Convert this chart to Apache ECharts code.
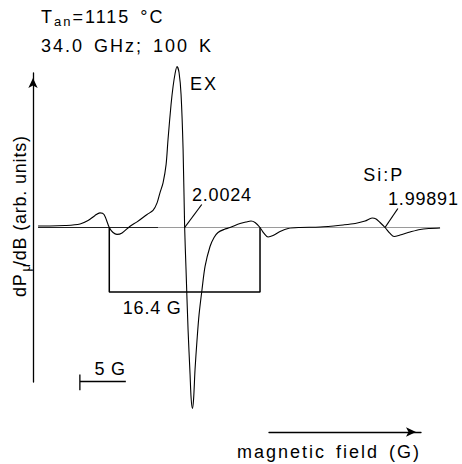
<!DOCTYPE html>
<html>
<head>
<meta charset="utf-8">
<script src="https://cdn.jsdelivr.net/npm/echarts@6/dist/echarts.min.js"></script>
<style>
  html, body { margin: 0; padding: 0; background: #fff; }
  #chart { width: 462px; height: 464px; }
  /* Helvetica-style tracking: light on numbers, wider on headings */
  #chart text { letter-spacing: 0.8px; }
  #chart text[style*="Arial"] { letter-spacing: 2px; word-spacing: 3px; }
</style>
</head>
<body>
<div id="chart"></div>
<script>
// Field offset (G) from the g = 2.0024 resonance
const fieldOffset = [-15.95, -14.65, -13.02, -11.38, -10.51, -9.75, -9.21, -8.77, -8.2, -7.79,
  -7.36, -6.81, -5.94, -5.18, -4.09, -3.44, -3.0, -2.68, -2.35, -2.02,
  -1.81, -1.48, -1.26, -1.04, -0.83, -0.61, -0.39, -0.17, 0, 0.15,
  0.37, 0.59, 0.70, 0.84, 0.97, 1.13, 1.35, 1.57, 1.89, 2.22,
  2.76, 3.20, 3.63, 4.29, 4.94, 6.03, 6.68, 7.22, 7.66, 8.2,
  8.64, 9.07, 9.62, 10.38, 11.26, 12.56, 14.74, 17.24, 18.55, 19.63,
  20.39, 20.83, 21.26, 21.8, 22.35, 22.79, 23.44, 24.53, 25.62, 26.71, 27.79];
// First-derivative ESR signal dPμ/dB (arb. units)
const signal = [0.9, 0.9, 1.2, 2.2, 4.3, 7.5, 9.1, 8.1, 0, -3.1,
  -4.3, -3.4, 0.8, 3.5, 8.1, 10.6, 15.3, 21.7, 27.8, 39.1,
  54.7, 76.4, 87.6, 95.7, 100, 96.3, 82.6, 48.4, 0, -26.1,
  -63.4, -91.3, -105.6, -112.4, -106.8, -88.2, -69.6, -54, -38.5, -24.2,
  -11.8, -6.2, -3.1, -1.2, 0, 2.5, 3.4, 4.0, 3.1, 0,
  -3.7, -5.9, -5.0, -2.5, -0.6, 0, 0.3, 1.6, 2.5, 4.0,
  5.9, 5.3, 3.1, 0, -3.7, -5.6, -4.7, -2.8, -1.2, -0.6, -0.3];

const splittingG = 16.4;            // hyperfine doublet spacing
const scaleBarG = 5;                // field scale bar
const resonanceOffset = [0, 21.8];  // EX and Si:P zero crossings (G)
const lineLabels = ['EX', 'Si:P'];
const gLabels = ['2.0024', '1.99891'];
const titleParts = ['T', 'an', '=1115 °C'];
const titleLine2 = '34.0 GHz; 100 K';
const yTitleParts = ['dP', 'μ', '/dB (arb. units)'];
const xTitle = 'magnetic field (G)';

const FONT_WIDE = "'Liberation Sans', Arial, sans-serif";
const FONT_TIGHT = "'Liberation Sans', Helvetica, sans-serif";
const INK = '#000';

const spectrum = fieldOffset.map((b, i) => [b, signal[i]]);
const baseStart = fieldOffset[0];
const baseEnd = fieldOffset[fieldOffset.length - 1];
const half = splittingG / 2;
const bracketDepth = -40;
const barStart = -11.4;
const barEnd = barStart + scaleBarG;
const barY = -95.7;

function lineSeries(data, width, color) {
  return {
    type: 'line', data: data, symbol: 'none', clip: false, silent: true,
    lineStyle: { color: color || INK, width: width }, z: 3
  };
}

const chart = echarts.init(document.getElementById('chart'), null, { renderer: 'svg' });

chart.setOption({
  animation: false,
  backgroundColor: '#fff',
  title: {
    text: '{b|' + titleParts[0] + '}{s|' + titleParts[1] + '}{b|' + titleParts[2] + '}\n{b|' + titleLine2 + '}',
    left: 41, top: 3, padding: 0,
    textStyle: {
      fontFamily: FONT_WIDE, fontSize: 18, fontWeight: 'normal', color: INK, lineHeight: 28.5,
      rich: {
        b: { fontFamily: FONT_WIDE, fontSize: 18, lineHeight: 28.5, color: INK },
        s: { fontFamily: FONT_WIDE, fontSize: 13, lineHeight: 14, color: INK, padding: [8, 4, 0, 2] }
      }
    }
  },
  grid: [
    { left: 33, width: 409, top: 73, height: 309 },
    { left: 269, right: 41, top: 431, height: 1 }
  ],
  xAxis: [
    { gridIndex: 0, type: 'value', min: -16.5, max: 28, show: false },
    {
      gridIndex: 1, type: 'value', min: 0, max: 1,
      axisLine: { show: true, onZero: false, symbol: ['none', 'arrow'], symbolSize: [7, 10], symbolOffset: [0, -5],
        lineStyle: { color: INK, width: 1.3 } },
      axisTick: { show: false }, axisLabel: { show: false }, splitLine: { show: false },
      name: xTitle, nameLocation: 'end', nameGap: 0,
      nameTextStyle: { fontFamily: FONT_WIDE, fontSize: 18, color: INK, align: 'right', verticalAlign: 'top', padding: [11, 0, 0, 0] }
    }
  ],
  yAxis: [
    {
      gridIndex: 0, type: 'value', min: -96, max: 96,
      axisLine: { show: true, onZero: false, symbol: ['none', 'arrow'], symbolSize: [7, 10], symbolOffset: [0, -5],
        lineStyle: { color: INK, width: 1.3 } },
      axisTick: { show: false }, axisLabel: { show: false }, splitLine: { show: false }
    },
    { gridIndex: 1, type: 'value', min: 0, max: 1, show: false }
  ],
  graphic: [{
    type: 'text', x: 20, y: 212.5, rotation: Math.PI / 2,
    style: {
      text: '{p|' + yTitleParts[0] + '}{m|' + yTitleParts[1] + '}{q|' + yTitleParts[2] + '}',
      align: 'center', verticalAlign: 'middle', fill: INK, font: '18px ' + FONT_TIGHT,
      rich: {
        p: { fontFamily: FONT_TIGHT, fontSize: 18, lineHeight: 22, padding: [0, 2, 0, 0] },
        m: { fontFamily: FONT_TIGHT, fontSize: 13, lineHeight: 12, padding: [10, 4, 0, 1] },
        q: { fontFamily: FONT_TIGHT, fontSize: 18, lineHeight: 22, padding: [0, 12.8, 0, 0] }
      }
    }
  }],
  series: [
    // zero-signal reference line
    lineSeries([[baseStart, 0], [-2.9, 0]], 1, '#222'),
    lineSeries([[-2.9, 0], [baseEnd, 0]], 1, '#9a9a9a'),
    // hyperfine splitting bracket
    lineSeries([[-half, 0], [-half, bracketDepth], [half, bracketDepth], [half, 0]], 1.5),
    // leaders from the zero crossings to the g-value labels
    lineSeries([[resonanceOffset[0], 0], [resonanceOffset[0] + 1.86, 14.3]], 1.2),
    lineSeries([[resonanceOffset[1], 0], [resonanceOffset[1] + 1.4, 11.8]], 1.2),
    // 5 G scale bar
    lineSeries([[barStart, -91.3], [barStart, -101.2], [barStart, barY], [barEnd, barY]], 1.3),
    // spectrum
    {
      type: 'line', data: spectrum, symbol: 'none', smooth: 0.3, clip: false, silent: true,
      lineStyle: { color: INK, width: 1.1 }, z: 4
    },
    // text annotations
    {
      type: 'scatter', symbolSize: 0, silent: true, clip: false, z: 5,
      itemStyle: { color: INK, opacity: 1 },
      label: { show: true, position: [0, 0], formatter: '{b}', fontSize: 18, color: INK, opacity: 1,
        textBorderWidth: 0, textBorderColor: 'transparent',
        fontFamily: FONT_TIGHT, verticalAlign: 'middle' },
      data: [
        { value: [resonanceOffset[0] + 0.59, 89.1], name: lineLabels[0], label: { align: 'left', fontFamily: FONT_WIDE } },
        { value: [resonanceOffset[0] + 0.8, 20.5], name: gLabels[0], label: { align: 'left' } },
        { value: [resonanceOffset[1] - 2.36, 32.6], name: lineLabels[1], label: { align: 'left', fontFamily: FONT_WIDE } },
        { value: [resonanceOffset[1] + 0.33, 18], name: gLabels[1], label: { align: 'left' } },
        { value: [0, -50], name: splittingG + ' G', label: { align: 'right', offset: [-3, 0] } },
        { value: [barEnd, barY], name: scaleBarG + ' G', label: { align: 'right', offset: [0, -12.5] } }
      ]
    }
  ]
});
</script>
</body>
</html>
